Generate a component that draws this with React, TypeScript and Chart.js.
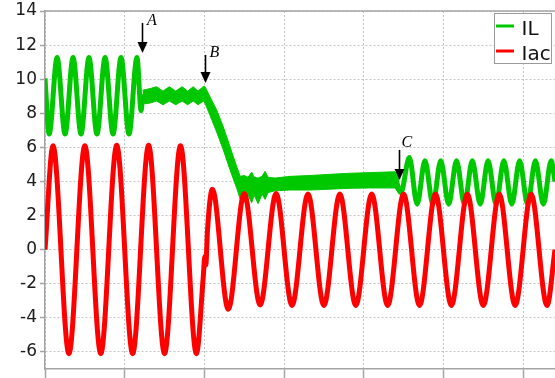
import React, { useEffect, useRef } from "react";
import { Chart, registerables } from "chart.js";

Chart.register(...registerables);

// ---- data (time in ms, current in A) ----
const ilTime = [
  0, 2.6, 7.6, 12.6, 17.6, 22.6, 27.6, 32.6, 37.7, 42.7, 47.7, 52.7, 57.7,
  60.3, 61.3, 70, 78, 86, 93, 100.4, 103.5, 107.7, 111.9, 116.1, 120.3, 122.5,
  126, 144.3, 166.3, 191.4, 219.6, 223.3,
  228.6, 233.5, 238.4, 243.4, 248.3, 253.3, 258.2, 263.2, 268.1, 273.1, 278,
  283, 287.9, 292.9, 297.8, 302.8, 307.7, 312.7, 317.6, 320,
];
const ilValue = [
  10.05, 6.78, 11.27, 6.78, 11.27, 6.78, 11.27, 6.78, 11.27, 6.78, 11.27, 6.78, 11.27,
  8.15, 8.95, 9.14, 9.14, 9.14, 9.14, 9.07, 8.42, 7.55, 6.52, 5.36, 4.23, 3.6,
  3.75, 3.82, 3.92, 4.04, 4.1, 3.35,
  5.4, 2.67, 5.21, 2.67, 5.21, 2.67, 5.21, 2.67, 5.21, 2.67, 5.21,
  2.67, 5.21, 2.67, 5.21, 2.67, 5.21, 2.67, 5.21, 4.0,
];

// switching-ripple band of IL (outer edges)
const bandTime = [
  61.2, 66, 70, 74, 78, 82, 86, 89.5, 93, 96, 99.5, 100.4, 103.5, 107.7, 111.9,
  116.1, 120.3, 122.5, 124.9, 127.4, 129.7, 131.2, 133.7, 136.2, 138.1, 139.9,
  144.3, 153.7, 166.3, 178.8, 191.4, 203.9, 219.6, 222.1,
];
const bandUpper = [
  9.35, 9.45, 9.56, 9.3, 9.56, 9.3, 9.56, 9.3, 9.56, 9.3, 9.58, 9.56, 8.97, 8.2, 7.2,
  6.04, 4.87, 4.3, 4.35, 4.25, 4.55, 4.25, 4.2, 4.3, 4.6, 4.25,
  4.2, 4.3, 4.35, 4.42, 4.48, 4.52, 4.57, 4.2,
];
const bandLower = [
  8.55, 8.6, 8.72, 8.5, 8.72, 8.5, 8.72, 8.5, 8.72, 8.5, 8.72, 8.59, 7.88, 6.9, 5.85,
  4.68, 3.6, 2.95, 3.1, 3.2, 2.75, 3.2, 2.7, 3.25, 2.95, 3.35,
  3.45, 3.5, 3.5, 3.55, 3.6, 3.62, 3.62, 3.3,
];

const iacTime = [
  0, 5, 15, 25, 35, 45, 55, 65, 75, 85, 95, 99.3, 100.3, 100.9, 102, 105, 115, 125,
  135, 145, 155, 165, 175, 185, 195, 205, 215, 225, 235, 245, 255, 265, 275, 285,
  295, 305, 315, 320,
];
const iacValue = [
  0, 6.1, -6.1, 6.1, -6.1, 6.12, -6.1, 6.12, -6.1, 6.1, -6.1, -1.6, -0.4, -0.9, 1.2,
  3.55, -3.5, 3.3, -3.25, 3.3, -3.27, 3.27, -3.27, 3.27, -3.27, 3.27, -3.27, 3.27,
  -3.27, 3.27, -3.27, 3.27, -3.27, 3.27, -3.27, 3.27, -3.27, 0,
];

const seriesLabels = ["IL", "Iac"];

// event markers (data units)
const markerLabels = ["A", "B", "C"];
const markerTime = [60.7, 100.4, 222.3];
const markerTip = [11.54, 9.78, 4.09];
const markerTail = [13.3, 11.42, 5.85];
const markerLabelTime = [64.0, 103.2, 223.7];
const markerLabelValue = [13.18, 11.3, 6.02];

const X_MIN = 0;
const X_MAX = 320;
const X_STEP = 50;
const Y_MIN = -7;
const Y_MAX = 14;
const Y_STEP = 2;

// ---- styles ----
const GREEN = "#00c800";
const RED = "#ff0000";
const GRID = "#c4c4c4";
const AXIS = "#a4a4a4";
const SANS = '"DejaVu Sans", Verdana, sans-serif';

const pts = (t: number[], v: number[]) => t.map((x, i) => ({ x, y: v[i] }));

const overlayPlugin = {
  id: "overlay",
  afterDraw(chart: any) {
    const { ctx, chartArea: a, scales } = chart;
    const xs = scales.x;
    const ys = scales.y;
    ctx.save();
    // top frame line
    ctx.strokeStyle = AXIS;
    ctx.lineWidth = 1.5;
    ctx.beginPath();
    ctx.moveTo(a.left, a.top);
    ctx.lineTo(a.right, a.top);
    ctx.stroke();

    // arrows with labels
    ctx.fillStyle = "#000";
    ctx.strokeStyle = "#000";
    markerLabels.forEach((lab, i) => {
      const px = Math.round(xs.getPixelForValue(markerTime[i])) + 0.5;
      const tip = ys.getPixelForValue(markerTip[i]);
      const tail = ys.getPixelForValue(markerTail[i]);
      ctx.lineWidth = 1.6;
      ctx.beginPath();
      ctx.moveTo(px, tail);
      ctx.lineTo(px, tip - 8);
      ctx.stroke();
      ctx.beginPath();
      ctx.moveTo(px - 5, tip - 11);
      ctx.lineTo(px + 5, tip - 11);
      ctx.lineTo(px, tip);
      ctx.closePath();
      ctx.fill();
      ctx.font = 'italic 16px "Liberation Serif", "DejaVu Serif", serif';
      ctx.textAlign = "left";
      ctx.textBaseline = "alphabetic";
      ctx.fillText(
        lab,
        xs.getPixelForValue(markerLabelTime[i]),
        ys.getPixelForValue(markerLabelValue[i])
      );
    });

    // legend
    const entries = chart.data.datasets.filter((d: any) => !d.hideInLegend);
    const bx = a.right - 60.5;
    const by = a.top + 2.5;
    const bw = 57;
    const bh = 50;
    ctx.fillStyle = "#fff";
    ctx.fillRect(bx, by, bw, bh);
    ctx.strokeStyle = "#9a9a9a";
    ctx.lineWidth = 1;
    ctx.strokeRect(bx, by, bw, bh);
    entries.forEach((d: any, i: number) => {
      const ly = by + 12.5 + i * 25;
      ctx.strokeStyle = d.borderColor;
      ctx.lineWidth = 3;
      ctx.beginPath();
      ctx.moveTo(bx + 1.5, ly);
      ctx.lineTo(bx + 19.5, ly);
      ctx.stroke();
      ctx.fillStyle = "#111";
      ctx.font = `20px ${SANS}`;
      ctx.textAlign = "left";
      ctx.textBaseline = "alphabetic";
      ctx.fillText(d.label, bx + 27, ly + 8.5);
    });
    ctx.restore();
  },
};

export default function App() {
  const ref = useRef<HTMLCanvasElement>(null);

  useEffect(() => {
    const canvas = ref.current;
    if (!canvas) return;
    const chart = new Chart(canvas, {
      type: "line",
      data: {
        datasets: [
          {
            label: seriesLabels[0],
            data: pts(ilTime, ilValue),
            borderColor: GREEN,
            backgroundColor: GREEN,
            borderWidth: 5,
            pointRadius: 0,
            cubicInterpolationMode: "monotone",
            borderJoinStyle: "round",
            fill: false,
            order: 1,
          } as any,
          {
            label: seriesLabels[1],
            data: pts(iacTime, iacValue),
            borderColor: RED,
            backgroundColor: RED,
            borderWidth: 5,
            pointRadius: 0,
            cubicInterpolationMode: "monotone",
            borderJoinStyle: "round",
            fill: false,
            order: 0,
          } as any,
          {
            label: "IL ripple upper",
            hideInLegend: true,
            data: pts(bandTime, bandUpper),
            borderColor: GREEN,
            backgroundColor: GREEN,
            borderWidth: 1,
            pointRadius: 0,
            tension: 0,
            fill: false,
            order: 2,
          } as any,
          {
            label: "IL ripple lower",
            hideInLegend: true,
            data: pts(bandTime, bandLower),
            borderColor: GREEN,
            backgroundColor: GREEN,
            borderWidth: 1,
            pointRadius: 0,
            tension: 0,
            fill: "-1",
            order: 2,
          } as any,
        ],
      },
      options: {
        responsive: false,
        animation: false,
        devicePixelRatio: 1,
        layout: { padding: 0 },
        plugins: {
          legend: { display: false },
          tooltip: { enabled: false },
          title: { display: false },
        },
        scales: {
          x: {
            type: "linear",
            min: X_MIN,
            max: X_MAX,
            ticks: { display: false, stepSize: X_STEP, includeBounds: false },
            grid: {
              color: GRID,
              lineWidth: 1,
              tickLength: 9,
              tickColor: AXIS,
              tickWidth: 1.5,
            },
            border: { color: AXIS, width: 1.5, dash: [2, 2] },
          },
          y: {
            type: "linear",
            min: Y_MIN,
            max: Y_MAX,
            ticks: {
              stepSize: Y_STEP,
              includeBounds: false,
              color: "#1a1a1a",
              padding: 3,
              font: { family: SANS, size: 17 },
            },
            grid: {
              color: GRID,
              lineWidth: 1,
              tickLength: 5,
              tickColor: AXIS,
              tickWidth: 1.5,
            },
            border: { color: AXIS, width: 1.5, dash: [2, 2] },
            afterFit: (s: any) => {
              s.width = 45;
              s.paddingTop = 11;
              s.paddingBottom = 0;
            },
          },
        },
      } as any,
      plugins: [overlayPlugin],
    });
    return () => chart.destroy();
  }, []);

  return (
    <div
      style={{
        position: "absolute",
        left: 0,
        top: 0,
        width: 555,
        height: 378,
        background: "#fff",
      }}
    >
      <canvas
        ref={ref}
        width={555}
        height={378}
        style={{ display: "block", width: 555, height: 378 }}
      />
    </div>
  );
}
